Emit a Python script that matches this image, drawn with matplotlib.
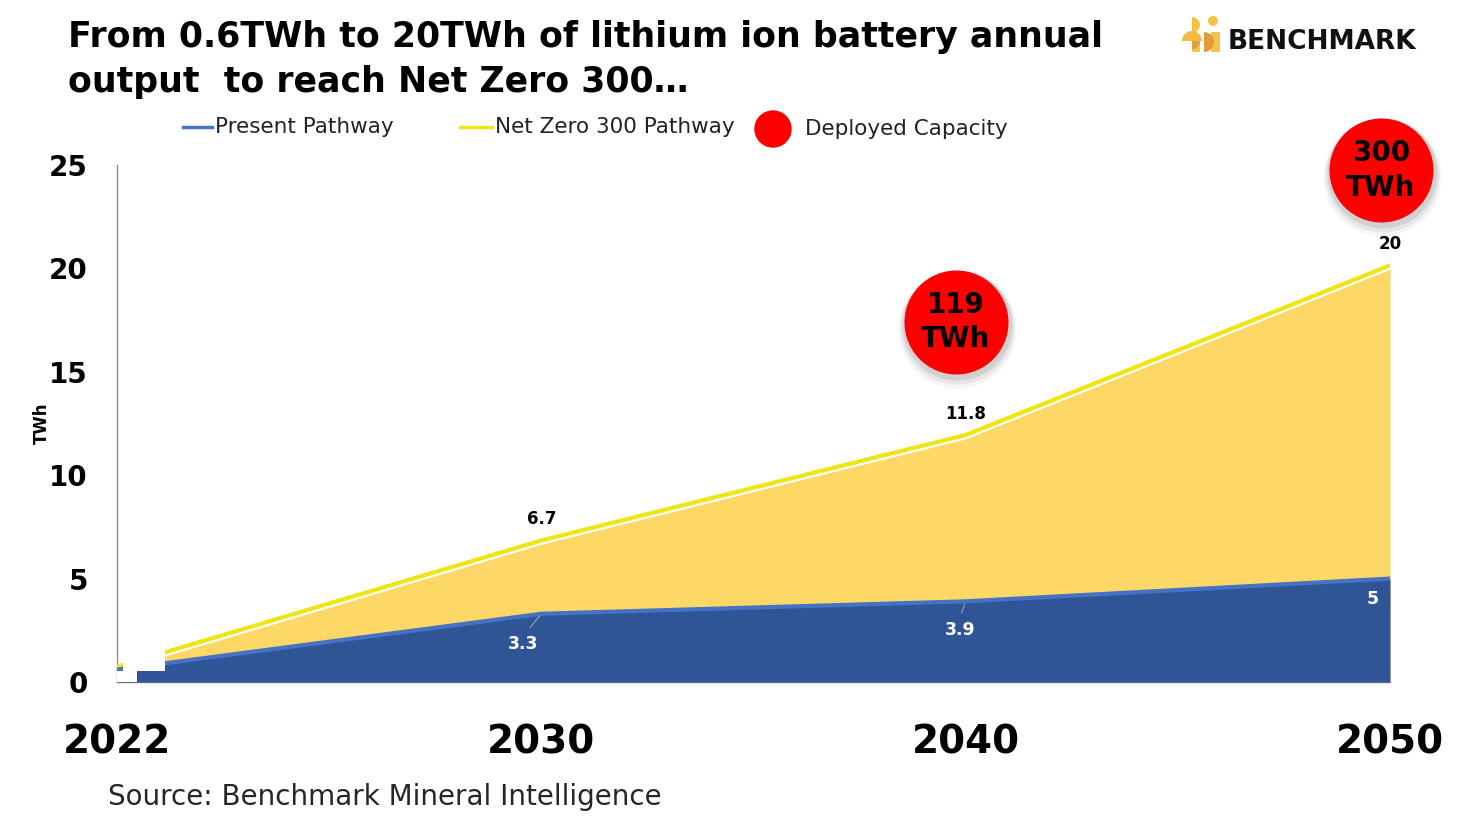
import numpy as np
import matplotlib
matplotlib.use("Agg")
import matplotlib.pyplot as plt
import matplotlib.transforms as mtransforms
from matplotlib.patches import Rectangle, Circle, Wedge, Ellipse
from matplotlib.lines import Line2D

years = ["2022", "2030", "2040", "2050"]
present = [0.6, 3.3, 3.9, 5.0]
net_zero = [0.6, 6.7, 11.8, 20.0]
deployed_years = ["2040", "2050"]
deployed_labels = ["119\nTWh", "300\nTWh"]
yticks = [0, 5, 10, 15, 20, 25]

c_blue = "#2f5597"
c_blue_line = "#4472c4"
c_yellow = "#fdd866"
c_yellow_line = "#f2e313"
c_red = "#ff0000"

plt.rcParams["font.family"] = ["DejaVu Sans"]

fig = plt.figure(figsize=(14.68, 8.19), dpi=100)
ax = fig.add_axes([117 / 1468, 1 - 682 / 819, (1390 - 117) / 1468, (682 - 165) / 819])
x = np.arange(len(years))

# areas
ax.fill_between(x, 0, net_zero, color=c_yellow, lw=0, zorder=1)
ax.plot(x, net_zero, color="white", lw=2, zorder=2)
ax.fill_between(x, 0, present, color=c_blue, lw=0, zorder=3)

# lines, slightly shifted up like the reference
up3 = mtransforms.offset_copy(ax.transData, fig, x=0, y=3, units="dots")
ax.plot(x, net_zero, color=c_yellow_line, lw=3, transform=up3, zorder=4, solid_capstyle="butt")
ax.plot(x, present, color=c_blue_line, lw=3, zorder=4, solid_capstyle="butt")

# white gap near the start (artifact in the original)
ax.add_patch(Rectangle((0.014, 0.55), 0.1, 1.5, color="white", lw=0, zorder=5))
ax.add_patch(Rectangle((0.0, 0.0), 0.047, 0.55, color="white", lw=0, zorder=5))

# data labels
for i in range(1, len(years)):
    ax.annotate(f"{net_zero[i]:g}", (x[i], net_zero[i]), xytext=(0, 15), textcoords="offset pixels",
                ha="center", va="bottom", fontsize=12, fontweight="bold", color="black", zorder=8)
blue_offsets = [(-18, -30), (-5, -29), (-17, -20)]
for i in range(1, len(years)):
    dx, dy = blue_offsets[i - 1]
    ax.annotate(f"{present[i]:g}", (x[i], present[i]), xytext=(dx, dy), textcoords="offset pixels",
                ha="center", va="center", fontsize=12.5, fontweight="bold", color="white", zorder=8)
# leader lines
for i, (dx0, dy0) in zip([1, 2], [(-13, -16), (-5, -14)]):
    ax.annotate("", (x[i], present[i]), xytext=(dx0, dy0), textcoords="offset pixels",
                arrowprops=dict(arrowstyle="-", color="#a0a0a0", lw=0.8), zorder=7)

# deployed capacity circles
circ_offsets = [(-10, 116), (-9, 98)]
for yr, lab, (dx, dy) in zip(deployed_years, deployed_labels, circ_offsets):
    i = years.index(yr)
    for k, a in [(7, 0.04), (5, 0.06), (3, 0.09)]:
        sh = mtransforms.offset_copy(ax.transData, fig, x=dx + 1, y=dy - k, units="dots")
        ax.scatter([x[i]], [net_zero[i]], s=(2 * (52 + k) * 0.72) ** 2, color="black", alpha=a,
                   lw=0, transform=sh, clip_on=False, zorder=9)
    tr = mtransforms.offset_copy(ax.transData, fig, x=dx, y=dy, units="dots")
    ax.scatter([x[i]], [net_zero[i]], s=(2 * 52 * 0.72) ** 2, color=c_red, lw=0, transform=tr,
               clip_on=False, zorder=10)
    ax.text(x[i], net_zero[i], lab, transform=tr, ha="center", va="center", fontsize=20,
            fontweight="bold", color="black", linespacing=1.3, zorder=11)

ax.set_xlim(0, 3)
ax.set_ylim(0, 25)
ax.set_yticks(yticks)
ax.set_yticklabels([str(t) for t in yticks], fontsize=20, fontweight="bold")
ax.set_xticks(x)
ax.set_xticklabels(years, fontsize=28, fontweight="bold")
ax.tick_params(axis="y", length=0, pad=21)
ax.tick_params(axis="x", length=0, pad=30)
for s in ["top", "right"]:
    ax.spines[s].set_visible(False)
for s in ["left", "bottom"]:
    ax.spines[s].set_color("#8c8c8c")
    ax.spines[s].set_linewidth(1)
ax.set_ylabel("TWh", fontsize=12, fontweight="bold")
ax.yaxis.set_label_coords(-0.052, 0.5)

# title
fig.text(68 / 1468, 1 - 20 / 819,
         "From 0.6TWh to 20TWh of lithium ion battery annual\noutput  to reach Net Zero 300\u2026",
         ha="left", va="top", fontsize=25, fontweight="bold", color="black", linespacing=1.4)

# legend
def fx(px):
    return px / 1468

def fy(py):
    return 1 - py / 819

fig.add_artist(Line2D([fx(183), fx(212)], [fy(127), fy(127)], color=c_blue_line, lw=2.5))
fig.text(fx(215), fy(127), "Present Pathway", ha="left", va="center", fontsize=15.5, color="#222222")
fig.add_artist(Line2D([fx(460), fx(492)], [fy(127), fy(127)], color=c_yellow_line, lw=2.5))
fig.text(fx(495), fy(127), "Net Zero 300 Pathway", ha="left", va="center", fontsize=15.5, color="#222222")
fig.add_artist(Ellipse((fx(773), fy(129)), 36 / 1468, 36 / 819, transform=fig.transFigure, color=c_red))
fig.text(fx(805), fy(129), "Deployed Capacity", ha="left", va="center", fontsize=15.5, color="#222222")

# source
fig.text(fx(108), fy(797), "Source: Benchmark Mineral Intelligence", ha="left", va="center",
         fontsize=20, color="#262626")

# logo
lx = fig.add_axes([1178 / 1468, 1 - 56 / 819, 46 / 1468, 44 / 819])
lx.set_xlim(0, 46)
lx.set_ylim(0, 44)
lx.axis("off")
lx.add_patch(Wedge((14, 31), 8, -90, 90, color="#f7c24a", lw=0))
lx.add_patch(Wedge((14, 15), 10, 0, 180, color="#f5b942", lw=0))
lx.add_patch(Rectangle((14, 4), 8, 11, color="#f7c24a", lw=0))
lx.add_patch(Wedge((14, 15), 8, 270, 360, color="#e39a3a", lw=0))
lx.add_patch(Rectangle((33, 4), 9, 20, color="#f7c24a", lw=0))
lx.add_patch(Wedge((26, 14), 10, -90, 90, color="#e39a3a", lw=0))
lx.add_patch(Circle((35, 35), 5, color="#f7c24a", lw=0))
fig.text(fx(1228), fy(42), "BENCHMARK", ha="left", va="center", fontsize=19, fontweight="bold",
         color="#111111")

fig.savefig("out.png", dpi=100)
